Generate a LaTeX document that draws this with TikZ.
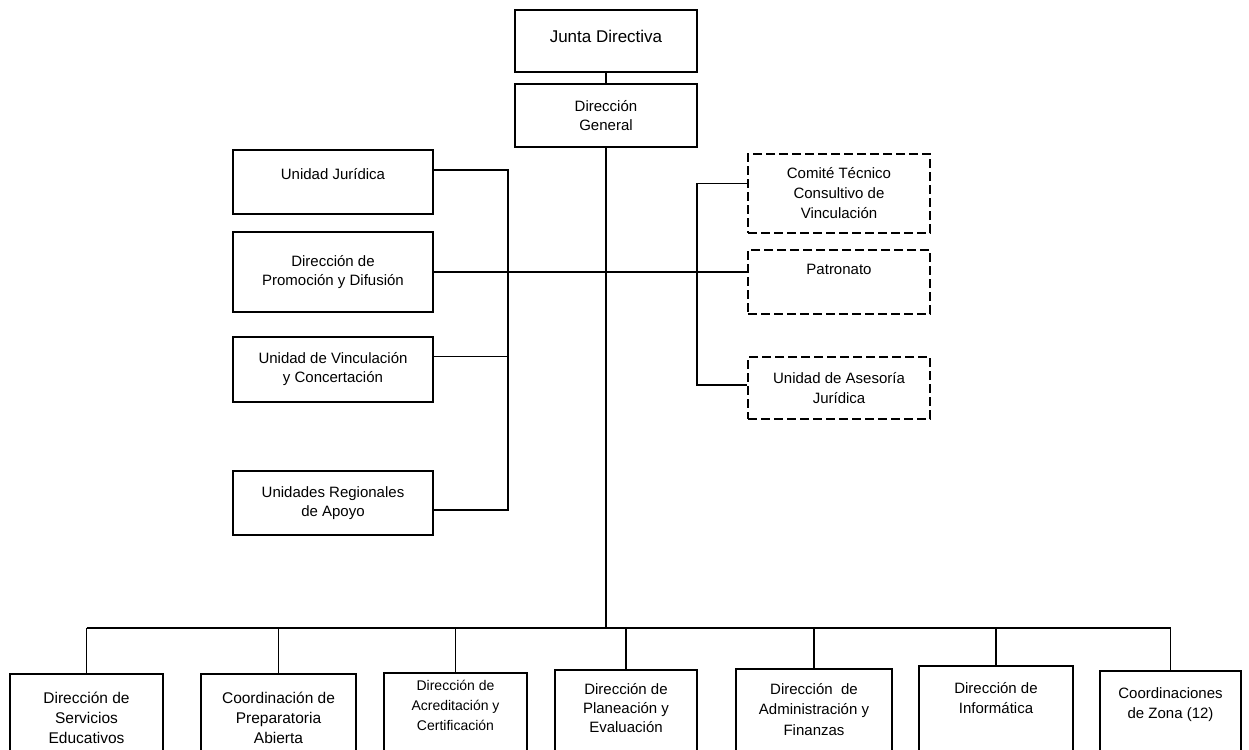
\documentclass[tikz,border=0pt]{standalone}
\usepackage{fontspec}
\setmainfont{Liberation Sans}
\usetikzlibrary{positioning}
\begin{document}
\begin{tikzpicture}[x=1pt,y=-1pt]
\tikzstyle{every node}+=[inner sep=0pt]
\tikzstyle{unit}=[draw, line width=1.8pt, align=center, font=\fontsize{15}{19}\selectfont]
\tikzstyle{staff}=[unit, dash pattern=on 9pt off 4pt]
\tikzstyle{area}=[draw, line width=1.8pt, minimum height=110pt, anchor=north]
\tikzstyle{areatext}=[align=center, font=\fontsize{15.5}{20}\selectfont]
\tikzstyle{link}=[line width=1.5pt]
\useasboundingbox (0,0) rectangle (1249,749);
\clip (0,0) rectangle (1249,749);
\fill [white] (0,0) rectangle (1249,749);
\node [unit, minimum width=182pt, minimum height=62pt, text depth=10pt, font=\fontsize{17}{20}\selectfont] (jd) at (606,41) {Junta Directiva};
\node [unit, minimum width=182pt, minimum height=63pt] (dg) at (606,115.5) {Dirección\\General};
\node [unit, minimum width=200pt, minimum height=64pt, text depth=17pt] (uj) at (333,182) {Unidad Jurídica};
\node [unit, minimum width=200pt, minimum height=80pt] (dpd) at (333,272) {Dirección de\\Promoción y Difusión};
\node [unit, minimum width=200pt, minimum height=65pt] (uvc) at (333,369.5) {Unidad de Vinculación\\y Concertación};
\node [unit, minimum width=200pt, minimum height=64pt] (ura) at (333,503) {Unidades Regionales\\de Apoyo};
\node [staff, minimum width=182pt, minimum height=79pt, font=\fontsize{15}{20}\selectfont] (ctc) at (839,193.5) {Comité Técnico\\Consultivo de\\Vinculación};
\node [staff, minimum width=182pt, minimum height=64pt, text depth=25pt] (pat) at (839,282) {Patronato};
\node [staff, minimum width=182pt, minimum height=62pt, font=\fontsize{15}{20}\selectfont] (uaj) at (839,388) {Unidad de Asesoría\\Jurídica};
\node [area, minimum width=153pt] (sed) at (86.5,673) {};
\node [area, minimum width=155pt] (cpa) at (278.5,673) {};
\node [area, minimum width=143pt] (dac) at (455.5,672) {};
\node [area, minimum width=142pt] (dpe) at (626,669) {};
\node [area, minimum width=156pt] (daf) at (814,668) {};
\node [area, minimum width=154pt] (dif) at (996,665) {};
\node [area, minimum width=141pt] (cza) at (1170.5,670) {};
\node [areatext, below=19pt of sed.north] (sedt) {Dirección de\\Servicios\\Educativos};
\node [areatext, below=19pt of cpa.north] (cpat) {Coordinación de\\Preparatoria\\Abierta};
\node [areatext, below=8pt of dac.north, font=\fontsize{14}{20}\selectfont] (dact) {Dirección de\\Acreditación y\\Certificación};
\node [areatext, below=14pt of dpe.north, font=\fontsize{15}{19}\selectfont] (dpet) {Dirección de\\Planeación y\\Evaluación};
\node [areatext, below=15pt of daf.north, font=\fontsize{15}{20.5}\selectfont] (daft) {Dirección\ \ de\\Administración y\\Finanzas};
\node [areatext, below=17pt of dif.north, font=\fontsize{15}{20}\selectfont] (dift) {Dirección de\\Informática};
\node [areatext, below=17pt of cza.north, font=\fontsize{15}{20}\selectfont] (czat) {Coordinaciones\\de Zona (12)};
\coordinate (bus) at (604,628);
\draw [link] (jd) -- (dg);
\draw [link] (dg.south) -- (dg.south |- bus);
\draw [link] ([yshift=12pt]uj.east) -- ++(74,0) |- ([yshift=-7pt]ura.east);
\draw [link] ([yshift=13pt]uvc.east) -- ++(74,0);
\draw [link] (dpd.east) -- (dpd.east -| pat.west);
\draw [link] ([yshift=10pt]ctc.west) -- ++(-50,0) |- ([yshift=3pt]uaj.west);
\draw [link] (sed.north |- bus) -- (cza.north |- bus);
\draw [link] (sed) -- (sed |- bus);
\draw [link] (cpa) -- (cpa |- bus);
\draw [link] (dac) -- (dac |- bus);
\draw [link] (dpe) -- (dpe |- bus);
\draw [link] (daf) -- (daf |- bus);
\draw [link] (dif) -- (dif |- bus);
\draw [link] (cza) -- (cza |- bus);
\end{tikzpicture}
\end{document}
